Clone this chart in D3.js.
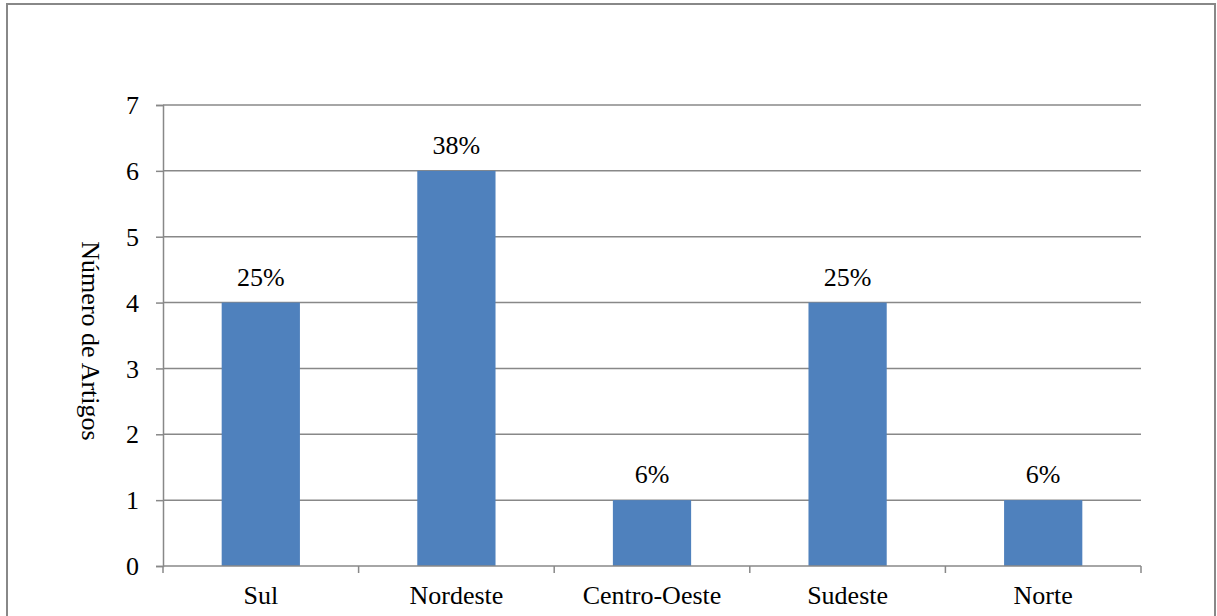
<!DOCTYPE html>
<html><head><meta charset="utf-8">
<script src="https://cdn.jsdelivr.net/npm/d3@7"></script>
<style>body{margin:0;background:#fff}svg{display:block}svg text{font-family:'Liberation Serif','Times New Roman',Tinos,'DejaVu Serif',serif !important;fill:#000}</style>
</head><body>
<svg id="c" width="1217" height="616"></svg>
<script>
const categories = ["Sul","Nordeste","Centro-Oeste","Sudeste","Norte"];
const values = [4,6,1,4,1];
const percentLabels = ["25%","38%","6%","25%","6%"];
const yTicks = [0,1,2,3,4,5,6,7];
const yTitle = "Número de Artigos";

const svg = d3.select("#c");
const W = 1217, H = 616;
const m = {left:163, right:1141, top:105, bottom:566};
const gray = "#888";
const FS = 26;

// outer border
svg.append("rect").attr("x",7).attr("y",4).attr("width",1208).attr("height",H+10)
  .attr("fill","none").attr("stroke",gray).attr("stroke-width",2);

const x = d3.scaleBand().domain(categories).range([m.left,m.right]).padding(0);
const y = d3.scaleLinear().domain([0,7]).range([m.bottom,m.top]);

// gridlines
svg.append("g").selectAll("line").data(yTicks.filter(d=>d>0)).join("line")
  .attr("x1",m.left).attr("x2",m.right).attr("y1",d=>y(d)).attr("y2",d=>y(d))
  .attr("stroke",gray).attr("stroke-width",1.5);

// y axis
const ya = svg.append("g").attr("transform",`translate(${m.left},0)`)
  .call(d3.axisLeft(y).tickValues(yTicks).tickSize(7).tickPadding(17).tickFormat(d3.format("d")));
ya.attr("font-family",null).attr("font-size",null);
ya.select(".domain").attr("stroke",gray).attr("stroke-width",1.5);
ya.selectAll(".tick line").attr("stroke",gray).attr("stroke-width",1.5);
ya.selectAll(".tick text").style("font-size",FS+"px").attr("dy","0.33em");

// bars
const bw = x.bandwidth()*0.4;
svg.append("g").selectAll("rect").data(values).join("rect")
  .attr("x",(d,i)=>x(categories[i])+x.bandwidth()/2-bw/2)
  .attr("width",bw)
  .attr("y",d=>y(d)).attr("height",d=>y(0)-y(d))
  .attr("fill","#4F81BD");

// x axis
svg.append("line").attr("x1",m.left).attr("x2",m.right).attr("y1",m.bottom).attr("y2",m.bottom)
  .attr("stroke",gray).attr("stroke-width",1.5);
const bounds = categories.map(c=>x(c)).concat([m.right]);
svg.append("g").selectAll("line").data(bounds).join("line")
  .attr("x1",d=>d).attr("x2",d=>d).attr("y1",m.bottom).attr("y2",m.bottom+7)
  .attr("stroke",gray).attr("stroke-width",1.5);
svg.append("g").selectAll("text").data(categories).join("text")
  .attr("x",d=>x(d)+x.bandwidth()/2).attr("y",604)
  .attr("text-anchor","middle").style("font-size",FS+"px").text(d=>d);

// data labels
svg.append("g").selectAll("text").data(values).join("text")
  .attr("x",(d,i)=>x(categories[i])+x.bandwidth()/2).attr("y",d=>y(d)-17)
  .attr("text-anchor","middle").style("font-size",FS+"px").text((d,i)=>percentLabels[i]);

// y title
svg.append("text").attr("transform",`translate(82,341) rotate(90)`)
  .attr("text-anchor","middle").style("font-size",FS+"px").text(yTitle);
</script>
</body></html>
